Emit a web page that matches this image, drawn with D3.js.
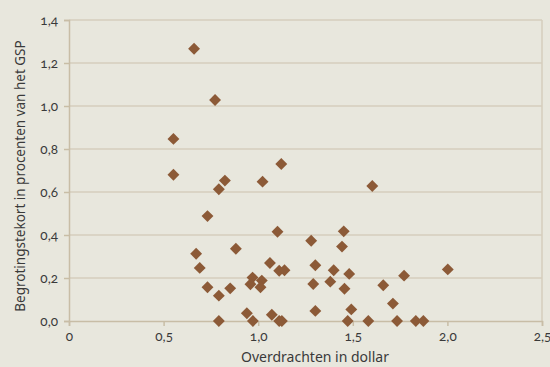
<!DOCTYPE html>
<html><head><meta charset="utf-8">
<script src="https://cdn.jsdelivr.net/npm/d3@7"></script>
<style>
html,body{margin:0;padding:0;background:#e8e7dd;}
svg{display:block;}
text{font-family:"Noto Sans","Open Sans",sans-serif;fill:#3a3a3a;}
</style></head><body>
<script>
const xValues = [0.661,0.772,0.552,0.552,0.792,0.824,1.023,1.122,0.732,1.102,1.280,0.672,0.882,0.691,1.062,1.111,1.139,1.302,1.399,0.970,1.019,0.959,1.012,0.732,0.792,0.852,1.291,1.381,1.302,0.940,0.972,0.792,1.072,1.111,1.125,1.452,1.443,1.481,1.456,1.771,2.002,1.661,1.712,1.492,1.473,1.582,1.734,1.833,1.873,1.603];
const yValues = [1.266,1.028,0.847,0.680,0.613,0.653,0.648,0.730,0.488,0.415,0.373,0.313,0.336,0.247,0.270,0.234,0.236,0.259,0.236,0.202,0.188,0.171,0.157,0.157,0.118,0.152,0.172,0.183,0.047,0.036,0.0,0.0,0.029,0.0,0.0,0.417,0.346,0.219,0.150,0.211,0.240,0.166,0.081,0.054,0.0,0.0,0.0,0.0,0.0,0.628];
const xTicks = [0,0.5,1.0,1.5,2.0,2.5];
const xTickLabels = ["0","0,5","1,0","1,5","2,0","2,5"];
const yTicks = [0,0.2,0.4,0.6,0.8,1.0,1.2,1.4];
const yTickLabels = ["0,0","0,2","0,4","0,6","0,8","1,0","1,2","1,4"];
const xTitle = "Overdrachten in dollar";
const yTitle = "Begrotingstekort in procenten van het GSP";

const W=550,H=367;
const m={left:69,right:8,top:20,bottom:46};
const svg=d3.select("body").append("svg").attr("width",W).attr("height",H);
svg.append("rect").attr("width",W).attr("height",H).attr("fill","#e8e7dd");
const x=d3.scaleLinear().domain([0,2.5]).range([m.left,W-m.right]);
const y=d3.scaleLinear().domain([0,1.4]).range([H-m.bottom,m.top]);
const axisCol="#c8bda6", gridCol="#d6cebd";

svg.append("g").selectAll("line").data(yTicks.slice(1)).join("line")
  .attr("x1",x(0)).attr("x2",x(2.5)).attr("y1",d=>y(d)).attr("y2",d=>y(d))
  .attr("stroke",gridCol).attr("stroke-width",1.5);
svg.append("line").attr("x1",x(2.5)).attr("x2",x(2.5)).attr("y1",y(0)).attr("y2",y(1.4))
  .attr("stroke",gridCol).attr("stroke-width",1.5);

const xAxis=svg.append("g").attr("transform",`translate(0,${y(0)})`)
  .call(d3.axisBottom(x).tickValues(xTicks).tickFormat((d,i)=>xTickLabels[i]).tickSize(5).tickPadding(5));
const yAxis=svg.append("g").attr("transform",`translate(${x(0)},0)`)
  .call(d3.axisLeft(y).tickValues(yTicks).tickFormat((d,i)=>yTickLabels[i]).tickSize(5).tickPadding(6));
[xAxis,yAxis].forEach(g=>{
  g.select(".domain").attr("stroke",axisCol).attr("stroke-width",1.5);
  g.selectAll(".tick line").attr("stroke",axisCol).attr("stroke-width",1.5);
  g.selectAll(".tick text").attr("font-size",13.5).attr("fill","#3a3a3a")
   .style("font-family","Lato,'Noto Sans',sans-serif")
   .style("font-variant-numeric","oldstyle-nums")
   .style("font-feature-settings","'onum' 1");
});

svg.append("g").selectAll("path").data(xValues.map((v,i)=>[v,yValues[i]])).join("path")
  .attr("d",d3.symbol().type(d3.symbolDiamond2).size(90))
  .attr("transform",d=>`translate(${x(d[0])},${y(d[1])})`)
  .attr("fill","#8c5a37");

svg.append("text").attr("x",315).attr("y",362).attr("text-anchor","middle")
  .attr("font-size",14).text(xTitle);
svg.append("text").attr("transform","translate(25,176) rotate(-90)").attr("text-anchor","middle")
  .attr("font-size",13.5).text(yTitle);
</script>
</body></html>
